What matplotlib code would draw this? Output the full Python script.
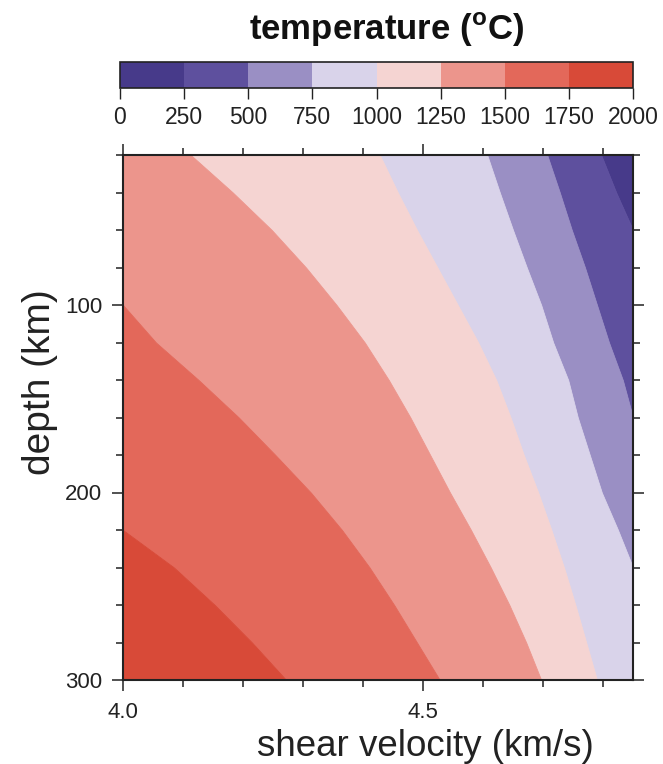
import matplotlib
matplotlib.use('Agg')
import matplotlib.pyplot as plt
from matplotlib.colors import ListedColormap, BoundaryNorm
from matplotlib.cm import ScalarMappable
from matplotlib.ticker import MultipleLocator, FixedLocator

plt.rcParams['font.family'] = ['Liberation Sans', 'DejaVu Sans']
plt.rcParams['mathtext.fontset'] = 'custom'
plt.rcParams['mathtext.rm'] = 'Liberation Sans'
plt.rcParams['mathtext.bf'] = 'Liberation Sans:bold'

# temperature classes (degC) and their colours
levels = [0, 250, 500, 750, 1000, 1250, 1500, 1750, 2000]
band_colors = ['#473a8a', '#5e509e', '#9a8fc4', '#d9d3ea',
               '#f5d4d2', '#ec958c', '#e3685a', '#d84a38']

# depth samples (km)
depth_km = [20, 40, 60, 80, 100, 120, 140, 160, 180, 200, 220, 240, 260, 280, 300]

# shear velocity (km/s) of each isotherm at those depths
# (values clipped to the plot window 4.0 - 4.85)
v_250 = [4.797, 4.822, 4.85, 4.85, 4.85, 4.85, 4.85, 4.85, 4.85, 4.85, 4.85, 4.85, 4.85, 4.85, 4.85]
v_500 = [4.707, 4.728, 4.748, 4.770, 4.790, 4.810, 4.833, 4.85, 4.85, 4.85, 4.85, 4.85, 4.85, 4.85, 4.85]
v_750 = [4.607, 4.628, 4.650, 4.673, 4.697, 4.717, 4.742, 4.758, 4.778, 4.798, 4.825, 4.85, 4.85, 4.85, 4.85]
v_1000 = [4.428, 4.458, 4.490, 4.524, 4.558, 4.592, 4.622, 4.646, 4.668, 4.692, 4.714, 4.735, 4.754, 4.772, 4.790]
v_1250 = [4.113, 4.183, 4.248, 4.305, 4.356, 4.403, 4.443, 4.479, 4.512, 4.545, 4.580, 4.613, 4.644, 4.672, 4.697]
v_1500 = [4.0, 4.0, 4.0, 4.0, 4.0, 4.055, 4.126, 4.193, 4.254, 4.313, 4.365, 4.411, 4.452, 4.490, 4.528]
v_1750 = [4.0, 4.0, 4.0, 4.0, 4.0, 4.0, 4.0, 4.0, 4.0, 4.0, 4.0, 4.085, 4.153, 4.215, 4.272]

v_min, v_max = 4.0, 4.85
d_min, d_max = 20, 300

fig = plt.figure(figsize=(6.63, 7.64), dpi=100)
ax = fig.add_axes([123 / 663, 1 - 680 / 764, 510 / 663, 525 / 764])
cax = fig.add_axes([120 / 663, 1 - 88 / 764, 513 / 663, 26 / 764])

# fill each temperature band between neighbouring isotherms
right_edge = [v_max] * len(depth_km)
left_edge = [v_min] * len(depth_km)
edges = [right_edge, v_250, v_500, v_750, v_1000, v_1250, v_1500, v_1750, left_edge]
for i, c in enumerate(band_colors):
    ax.fill_betweenx(depth_km, edges[i + 1], edges[i], facecolor=c,
                     edgecolor=c, linewidth=0.6)

ax.set_xlim(v_min, v_max)
ax.set_ylim(d_max, d_min)

ax.xaxis.set_major_locator(FixedLocator([4.0, 4.5]))
ax.xaxis.set_minor_locator(MultipleLocator(0.1))
ax.yaxis.set_major_locator(FixedLocator([100, 200, 300]))
ax.yaxis.set_minor_locator(MultipleLocator(20))
ax.set_xticklabels(['4.0', '4.5'])
ax.tick_params(which='both', direction='out', top=True, right=True,
               width=1.1, colors='#222222', labelsize=16)
ax.tick_params(which='major', length=8)
ax.tick_params(which='minor', length=5)
ax.tick_params(axis='x', pad=8)
ax.tick_params(axis='y', pad=7)
for s in ax.spines.values():
    s.set_linewidth(1.5)
    s.set_color('#222222')

fig.text(425 / 663, 1 - 746 / 764, 'shear velocity (km/s)', ha='center', va='center',
         fontsize=26.5, color='#222222')
fig.text(40 / 663, 1 - 382 / 764, 'depth (km)', ha='center', va='center',
         rotation=90, fontsize=28, color='#222222')

# colour bar
cmap = ListedColormap(band_colors)
norm = BoundaryNorm(levels, cmap.N)
cb = fig.colorbar(ScalarMappable(norm=norm, cmap=cmap), cax=cax,
                  orientation='horizontal', ticks=levels)
cb.outline.set_linewidth(1.2)
cb.outline.set_edgecolor('#222222')
cax.tick_params(direction='out', length=8, width=1.0, labelsize=16.5, pad=5,
                colors='#222222')
cax.set_xticklabels([str(l) for l in levels])

fig.text(387 / 663, 1 - 30 / 764, r'temperature ($^{\mathbf{o}}$C)', ha='center',
         va='center', fontsize=25, fontweight='bold', color='#111111')

fig.savefig('out.png', dpi=100)
